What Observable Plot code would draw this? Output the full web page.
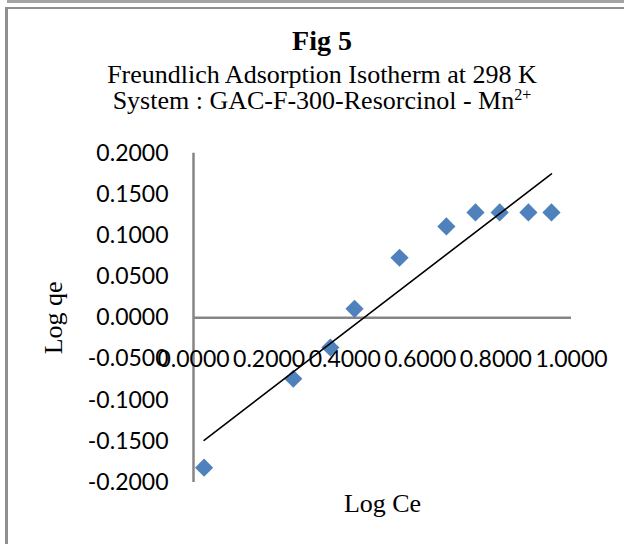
<!DOCTYPE html>
<html><head><meta charset="utf-8">
<script src="https://cdn.jsdelivr.net/npm/d3@7"></script>
<script src="https://cdn.jsdelivr.net/npm/@observablehq/plot@0.6"></script>
<style>
body{margin:0;background:#fff;}
#wrap{position:relative;width:624px;height:544px;overflow:hidden;background:#fff;}
.strip{position:absolute;left:7px;top:0;width:700px;height:3px;background:#a3a3a3;}
.frame{position:absolute;left:5px;top:7px;width:700px;height:600px;border-left:3px solid #8f8f8f;border-top:2px solid #8f8f8f;}
.t{position:absolute;left:0;width:644px;text-align:center;font-family:"Liberation Serif",serif;color:#000;white-space:nowrap;}
#chart{position:absolute;left:0;top:0;}
sup{font-size:0.62em;line-height:0;vertical-align:0.55em;}
</style>
</head><body>
<div id="wrap">
  <div class="strip"></div>
  <div class="frame"></div>
  <div id="chart"></div>
  <div class="t" id="t1" style="top:27px;font-size:28px;line-height:28px;font-weight:bold;"></div>
  <div class="t" id="t2" style="top:62px;font-size:26px;line-height:26px;"></div>
  <div class="t" id="t3" style="top:88px;font-size:26px;line-height:26px;"></div>
</div>
<script>
const titleText = "Fig 5";
const subtitleText = "Freundlich Adsorption Isotherm at 298 K";
const systemText = "System : GAC-F-300-Resorcinol - Mn";
const systemSup = "2+";
const xLabel = "Log Ce";
const yLabel = "Log qe";

const logCe = [0.028, 0.264, 0.362, 0.426, 0.545, 0.669, 0.746, 0.810, 0.886, 0.947];
const logQe = [-0.182, -0.074, -0.036, 0.011, 0.073, 0.111, 0.128, 0.128, 0.128, 0.128];

const xTicks = [0, 0.2, 0.4, 0.6, 0.8, 1.0];
const yTicks = [-0.2, -0.15, -0.1, -0.05, 0, 0.05, 0.1, 0.15, 0.2];

const data = logCe.map((x, i) => ({x, y: logQe[i]}));

document.getElementById("t1").textContent = titleText;
document.getElementById("t2").textContent = subtitleText;
const t3 = document.getElementById("t3");
t3.textContent = systemText;
const sp = document.createElement("sup");
sp.textContent = systemSup;
t3.appendChild(sp);

const fmt = d => d.toFixed(4);
const tickFont = "Lato, 'Open Sans', sans-serif";
const serif = "'Liberation Serif', serif";

const chart = Plot.plot({
  width: 624,
  height: 544,
  marginLeft: 193,
  marginRight: 53,
  marginTop: 152.7,
  marginBottom: 62,
  style: {background: "transparent", overflow: "visible"},
  x: {domain: [0, 1], axis: null},
  y: {domain: [-0.2, 0.2]},
  marks: [
    Plot.ruleX([0], {y1: -0.2, y2: 0.2, stroke: "#868686", strokeWidth: 2.5}),
    Plot.ruleY([0], {x1: 0, x2: 1, stroke: "#868686", strokeWidth: 2.5}),
    Plot.axisY(yTicks, {tickSize: 0, tickPadding: 25, tickFormat: fmt, fontSize: 23, fontFamily: tickFont, label: null, fill: "#000"}),
    Plot.text(xTicks, {x: d => d, y: () => 0, text: fmt, dy: 42, fontSize: 23, fontFamily: tickFont, fill: "#000"}),
    Plot.dot(data, {x: "x", y: "y", symbol: "diamond2", r: 8.2, fill: "#4F81BD", stroke: "none"}),
    Plot.linearRegressionY(data, {x: "x", y: "y", stroke: "#000", strokeWidth: 1.6, ci: 0}),
    Plot.text([yLabel], {frameAnchor: "left", textAnchor: "middle", lineAnchor: "middle", dx: -140, rotate: -90, fontSize: 26, fontFamily: serif, fill: "#000"}),
    Plot.text([xLabel], {frameAnchor: "bottom", textAnchor: "middle", lineAnchor: "middle", dy: 21, fontSize: 26, fontFamily: serif, fill: "#000"})
  ]
});
document.getElementById("chart").appendChild(chart);
</script>
</body></html>
